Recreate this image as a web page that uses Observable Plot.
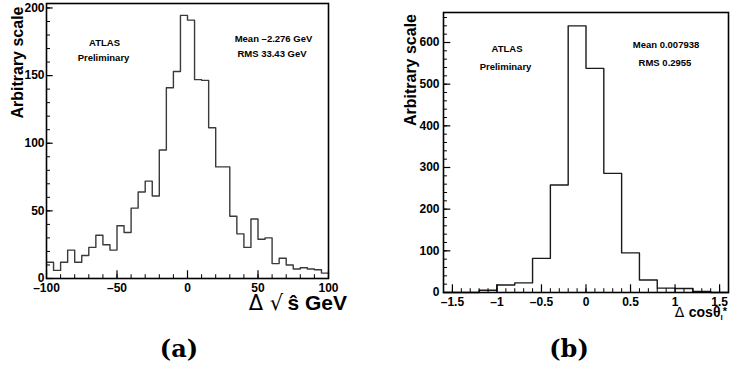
<!DOCTYPE html>
<html><head><meta charset="utf-8">
<script src="https://cdn.jsdelivr.net/npm/d3@7"></script>
<script src="https://cdn.jsdelivr.net/npm/@observablehq/plot@0.6"></script>
<style>
body{margin:0;background:#fff;}
#fig{position:relative;width:743px;height:372px;overflow:hidden;background:#fff;}
.pane{position:absolute;top:0;}
.pane svg{overflow:visible;}
.cap{position:absolute;font-family:"DejaVu Serif",serif;font-weight:bold;font-size:24px;line-height:1;transform:translate(-50%,-50%);white-space:nowrap;}
</style></head><body><div id="fig"></div>
<script>
// ---- data: panel (a) Δ√ŝ (GeV), 40 bins of 5 GeV from -100 to 100
const sqrtsEdges = d3.range(-100, 100.001, 5);
const sqrtsCounts = [12, 6, 12, 21, 12, 17, 23, 32, 25, 21, 39, 34, 52, 64, 72, 61,
  95, 141, 153, 194.5, 191, 147, 146.5, 111.5, 82.5, 82.5, 46, 33,
  23, 44, 29, 30, 11, 15, 10, 7, 8, 7, 6.5, 4];
const sqrtsMajorX = [-100, -50, 0, 50, 100];
const sqrtsMinorX = d3.range(-100, 101, 10);
const sqrtsMajorY = [0, 50, 100, 150, 200];
const sqrtsMinorY = d3.range(0, 201, 10);
const sqrtsStats = ["Mean \u20132.276 GeV", "RMS 33.43 GeV"];

// ---- data: panel (b) Δcosθ*, 16 bins of 0.2 from -1.6 to 1.6
const cosEdges = d3.range(-16, 17, 2).map(d => d / 10);
const cosCounts = [0, 0, 5.5, 18, 23, 82, 258, 640, 538, 286, 95, 30, 10.5, 9.5, 2.5, 0];
const cosMajorX = [-1.5, -1, -0.5, 0, 0.5, 1, 1.5];
const cosMinorX = d3.range(-16, 17, 1).map(d => d / 10);
const cosMajorY = [0, 100, 200, 300, 400, 500, 600];
const cosMinorY = d3.range(0, 661, 20);
const cosStats = ["Mean 0.007938", "RMS 0.2955"];

const atlasLines = ["ATLAS", "Preliminary"];
const yTitle = "Arbitrary scale";

const FONT = '"Liberation Sans", Arial, sans-serif';
const fmt = d => (d < 0 ? "\u2013" : "") + Math.abs(d);
const steps = (edges, vals) => [...vals.map((v, i) => ({x: edges[i], y: v})),
  {x: edges[edges.length - 1], y: vals[vals.length - 1]}];

function panel(cfg) {
  const pw = cfg.w - cfg.ml - cfg.mr, ph = cfg.h - cfg.mt - cfg.mb;
  const ux = px => px * (cfg.xDom[1] - cfg.xDom[0]) / pw;
  const uy = px => px * (cfg.yDom[1] - cfg.yDom[0]) / ph;
  const x0 = cfg.xDom[0], y0 = cfg.yDom[0];
  return Plot.plot({
    width: cfg.w, height: cfg.h,
    marginLeft: cfg.ml, marginRight: cfg.mr, marginTop: cfg.mt, marginBottom: cfg.mb,
    x: {domain: cfg.xDom, axis: null},
    y: {domain: cfg.yDom, axis: null},
    style: {fontSize: "12px", fontFamily: FONT, fontWeight: "bold", background: "transparent", color: "black"},
    marks: [
      Plot.lineY(steps(cfg.edges, cfg.counts), {x: "x", y: "y", curve: "step-after", stroke: cfg.lineColor, strokeWidth: 1.4}),
      Plot.ruleX(cfg.minorX, {x: d => d, y1: y0, y2: y0 + uy(3.8), stroke: "black", strokeWidth: 1}),
      Plot.ruleX(cfg.majorX, {x: d => d, y1: y0, y2: y0 + uy(7.7), stroke: "black", strokeWidth: 1.2}),
      Plot.ruleY(cfg.minorY.filter(d => d <= cfg.yDom[1]), {y: d => d, x1: x0, x2: x0 + ux(4), stroke: "black", strokeWidth: 1}),
      Plot.ruleY(cfg.majorY, {y: d => d, x1: x0, x2: x0 + ux(cfg.yMajLen), stroke: "black", strokeWidth: 1.2}),
      Plot.axisX(cfg.majorX, {anchor: "bottom", tickSize: 0, tickPadding: 5, tickFormat: fmt, label: null, fontSize: 12}),
      Plot.axisY(cfg.majorY, {anchor: "left", tickSize: 0, tickPadding: cfg.yPad, tickFormat: fmt, label: null, fontSize: 12}),
      Plot.frame({stroke: "black", strokeWidth: 1.6}),
      Plot.text(atlasLines, {frameAnchor: "top-left", text: d => d, fill: "black", fontSize: 9.5}),
      Plot.text([yTitle], {frameAnchor: "top-left", text: d => d, rotate: -90, textAnchor: "end", lineAnchor: "middle", dx: cfg.yTitleDx, dy: cfg.yTitleDy, fill: "black", fontSize: 16})
    ]
  });
}

const fig = document.getElementById("fig");

function place(svg, left) {
  const div = document.createElement("div");
  div.className = "pane";
  div.style.left = left + "px";
  div.appendChild(svg);
  fig.appendChild(div);
}

const A = {w: 370, h: 318, ml: 46, mr: 42, mt: 3, mb: 40, xDom: [-100, 100], yDom: [0, 203.3],
  edges: sqrtsEdges, counts: sqrtsCounts, majorX: sqrtsMajorX, minorX: sqrtsMinorX,
  majorY: sqrtsMajorY, minorY: sqrtsMinorY, lineColor: "#3a3a3a", yMajLen: 6.7, yPad: 2,
  yTitleDx: -29, yTitleDy: 3};
const B = {w: 353, h: 332, ml: 53, mr: 15, mt: 12, mb: 40, xDom: [-1.6, 1.6], yDom: [0, 672],
  edges: cosEdges, counts: cosCounts, majorX: cosMajorX, minorX: cosMinorX,
  majorY: cosMajorY, minorY: cosMinorY, lineColor: "#1a1a1a", yMajLen: 7.3, yPad: 4,
  yTitleDx: -33, yTitleDy: 1.5};

function annotate(svg, atlasPos, statLines, statPos, xTitle) {
  const s = d3.select(svg);
  s.selectAll("g").attr("font-family", FONT).attr("font-weight", "bold");
  s.selectAll("text").attr("font-family", FONT).attr("font-weight", "bold");
  s.selectAll("text").filter(function() { return atlasLines.includes(this.textContent); })
    .each(function() {
      const i = atlasLines.indexOf(this.textContent);
      d3.select(this).attr("text-anchor", "middle")
        .attr("transform", `translate(${atlasPos[i][0]},${atlasPos[i][1]})`);
    });
  const g = s.append("g").attr("fill", "black").attr("font-family", FONT).attr("font-weight", "bold");
  statLines.forEach((t, i) => {
    g.append("text").attr("x", statPos[i][0]).attr("y", statPos[i][1]).attr("dy", "0.35em")
      .attr("text-anchor", "middle").attr("font-size", 9.5).text(t);
  });
  xTitle(g);
}

const svgA = panel(A);
place(svgA, 0);
annotate(svgA, [[104, 39], [103, 54]], sqrtsStats, [[273.5, 39], [272, 54]], g => {
  const t = g.append("text").attr("x", 347).attr("y", 310).attr("text-anchor", "end").attr("font-size", 21);
  t.append("tspan").attr("font-weight", "normal").attr("font-family", "'DejaVu Sans', sans-serif").text("\u0394 \u221A");
  t.append("tspan").text("\u2009\u015D GeV");
});

const svgB = panel(B);
place(svgB, 390);
annotate(svgB, [[116.5, 45], [115, 62.5]], cosStats, [[276, 45], [275, 62.5]], g => {
  const t = g.append("text").attr("x", 337).attr("y", 317).attr("text-anchor", "end").attr("font-size", 14);
  t.append("tspan").attr("font-weight", "normal").attr("font-family", "'DejaVu Sans', sans-serif").text("\u0394 ");
  t.append("tspan").text("cos\u03B8");
  t.append("tspan").attr("font-size", 8).attr("dy", 3).text("l");
  t.append("tspan").attr("font-size", 11).attr("dy", -5).text("*");
});

[["(a)", 179, 349], ["(b)", 569, 349]].forEach(([t, x, y]) => {
  const d = document.createElement("div");
  d.className = "cap"; d.textContent = t;
  d.style.left = x + "px"; d.style.top = y + "px";
  fig.appendChild(d);
});
</script>
</body></html>
